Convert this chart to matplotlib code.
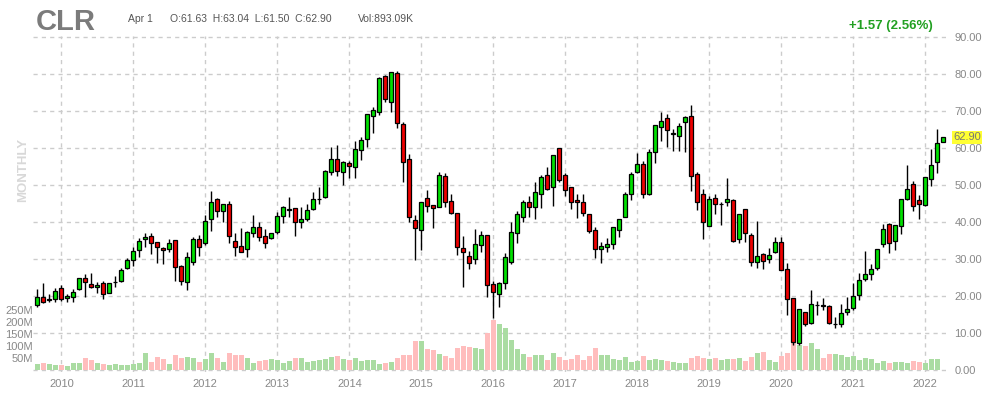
import numpy as np
import matplotlib
matplotlib.use('Agg')
import matplotlib.pyplot as plt
import matplotlib.transforms as mtransforms

plt.rcParams['font.family'] = ['Liberation Sans', 'DejaVu Sans']

# monthly candles, Sep 2009 .. Apr 2022
years = ['2010', '2011', '2012', '2013', '2014', '2015', '2016',
         '2017', '2018', '2019', '2020', '2021', '2022']

opens = [17.7, 19.6, 19.05, 19.3, 22.1, 19.4, 19.8, 21.8, 24.8, 23.2,
         22.3, 23.4, 20.9, 23.7, 24.1, 27.5, 29.6, 32.3, 35.3, 36.1,
         34.5, 33.0, 32.6, 35.1, 28.1, 23.9, 29.1, 35.3, 34.4, 40.7,
         46.1, 43.1, 44.8, 34.9, 33.5, 32.6, 36.9, 38.6, 36.2, 35.6,
         37.4, 41.7, 43.3, 43.7, 40.1, 40.8, 43.4, 46.2, 46.8, 53.6,
         56.9, 53.6, 55.9, 55.0, 59.4, 62.3, 68.7, 69.8, 79.5, 72.5,
         80.2, 66.4, 56.9, 40.5, 37.8, 46.4, 44.6, 44.1, 52.4, 45.6,
         42.3, 32.9, 30.7, 29.9, 33.7, 36.5, 23.2, 20.45, 23.4, 29.3,
         37.1, 41.4, 45.4, 44.1, 47.7, 52.7, 49.5, 59.9, 52.7, 49.4,
         45.9, 45.3, 42.1, 37.8, 32.6, 33.3, 34.0, 37.8, 41.4, 47.7,
         53.4, 55.6, 47.7, 58.8, 65.6, 68.0, 63.9, 63.3, 66.9, 68.7,
         52.9, 47.5, 39.0, 46.4, 44.8, 45.5, 46.0, 35.3, 43.5, 36.4,
         29.3, 31.4, 29.9, 31.8, 34.5, 27.2, 19.4, 7.2, 15.8, 12.6,
         17.5, 17.45, 17.4, 12.3, 12.4, 15.8, 16.7, 20.2, 24.7, 26.0,
         27.7, 34.0, 39.5, 34.9, 39.0, 46.2, 50.2, 46.0, 44.6, 51.5,
         56.1, 61.63]

highs = [21.8, 23.4, 20.5, 22.2, 22.9, 20.5, 21.8, 24.9, 26.0, 26.1,
         23.9, 24.1, 23.5, 25.4, 27.5, 30.2, 33.3, 35.6, 36.9, 36.9,
         34.6, 33.3, 35.3, 35.2, 28.4, 31.9, 35.9, 36.5, 41.9, 48.4,
         46.4, 45.0, 45.7, 36.9, 38.3, 37.7, 41.9, 40.1, 38.1, 37.1,
         42.8, 44.3, 46.8, 43.8, 44.0, 44.9, 48.2, 49.5, 54.1, 60.4,
         60.8, 56.4, 56.6, 61.9, 63.1, 69.2, 71.2, 79.3, 79.6, 80.6,
         80.8, 66.9, 58.3, 41.9, 45.4, 48.7, 44.7, 53.4, 53.2, 47.7,
         42.4, 36.2, 32.2, 38.1, 37.6, 36.6, 24.1, 23.7, 31.7, 40.0,
         43.1, 45.9, 47.0, 50.7, 52.7, 55.0, 58.2, 59.9, 53.3, 49.4,
         47.6, 47.6, 42.1, 38.6, 34.7, 35.6, 38.6, 40.8, 48.2, 53.4,
         58.7, 56.5, 59.6, 66.3, 69.6, 69.2, 65.0, 66.7, 68.7, 71.6,
         53.6, 48.8, 47.0, 47.6, 45.5, 51.8, 46.1, 42.1, 43.6, 37.0,
         40.4, 31.7, 32.9, 36.0, 35.9, 29.0, 19.4, 16.5, 15.8, 21.6,
         18.7, 19.4, 17.5, 14.2, 17.8, 19.6, 23.6, 26.2, 32.1, 28.6,
         32.7, 39.4, 39.8, 39.3, 46.2, 55.4, 51.1, 47.3, 52.1, 59.6,
         65.0, 63.04]

lows = [16.9, 18.2, 18.5, 18.5, 18.7, 18.3, 18.5, 21.7, 19.8, 22.1,
        20.9, 19.3, 20.7, 22.5, 23.9, 27.2, 28.1, 30.5, 33.2, 31.4,
        29.0, 28.7, 32.0, 24.1, 23.0, 21.6, 28.4, 30.8, 33.8, 37.7,
        41.4, 40.1, 34.4, 30.8, 31.9, 30.6, 36.0, 35.0, 33.1, 35.3,
        36.8, 39.8, 41.3, 36.2, 38.5, 40.3, 43.2, 44.9, 46.6, 52.7,
        52.3, 50.0, 52.0, 51.8, 56.8, 60.4, 64.0, 68.9, 72.3, 69.6,
        65.3, 50.9, 39.9, 29.7, 32.4, 42.8, 38.3, 44.0, 44.1, 42.1,
        31.1, 22.5, 27.2, 28.6, 32.0, 19.6, 14.0, 17.1, 21.8, 28.6,
        34.4, 40.0, 41.3, 40.8, 43.9, 48.6, 44.3, 50.9, 46.9, 43.5,
        41.2, 41.6, 36.9, 30.3, 29.0, 32.0, 32.8, 35.9, 41.4, 45.9,
        53.3, 46.6, 47.4, 56.0, 62.0, 60.4, 59.2, 59.3, 59.0, 48.5,
        43.3, 35.4, 39.0, 42.2, 39.2, 44.2, 34.7, 34.4, 34.7, 28.1,
        27.7, 27.3, 29.0, 31.5, 27.0, 14.9, 6.8, 6.8, 11.9, 12.35,
        14.9, 16.1, 12.35, 11.45, 11.7, 14.9, 16.2, 18.9, 24.1, 24.4,
        27.1, 33.3, 31.5, 32.3, 36.7, 45.9, 43.1, 40.7, 44.3, 49.7,
        53.2, 61.50]

closes = [19.6, 18.5, 19.15, 21.4, 19.1, 19.9, 21.2, 24.8, 23.7, 22.3,
          23.0, 20.5, 23.4, 23.9, 27.0, 29.7, 32.2, 34.9, 35.9, 34.2,
          33.2, 32.3, 34.4, 27.9, 24.1, 30.5, 35.3, 33.3, 40.4, 45.3,
          43.1, 44.8, 36.3, 33.3, 32.0, 37.3, 38.6, 35.9, 34.4, 36.9,
          41.6, 44.0, 43.5, 40.1, 40.7, 43.2, 46.1, 46.35, 53.8, 56.9,
          53.9, 56.3, 55.1, 59.6, 62.2, 69.1, 70.3, 78.8, 73.2, 80.5,
          66.7, 56.3, 41.3, 38.3, 45.3, 44.4, 43.7, 52.7, 45.5, 42.4,
          33.3, 32.0, 29.0, 34.0, 36.5, 23.0, 21.2, 23.4, 30.45, 37.2,
          42.2, 45.4, 44.1, 48.1, 52.1, 49.0, 58.1, 51.4, 48.6, 45.3,
          45.3, 42.3, 37.7, 32.6, 33.5, 34.05, 38.6, 40.7, 47.6, 53.0,
          55.6, 47.5, 58.8, 66.2, 67.3, 64.9, 64.05, 66.0, 68.3, 52.5,
          45.5, 40.1, 46.1, 44.8, 44.9, 46.1, 35.0, 42.1, 37.1, 29.3,
          30.8, 29.55, 31.1, 34.5, 27.1, 19.1, 7.7, 16.4, 12.4, 17.75,
          17.6, 17.4, 12.6, 12.4, 15.5, 16.4, 19.9, 24.3, 25.95, 27.2,
          32.6, 38.0, 34.2, 39.2, 46.1, 48.8, 44.4, 44.8, 52.1, 55.4,
          61.3, 62.90]

# volume in millions
volumes = [25, 28, 25, 21, 21, 17, 29, 29, 50, 43,
           29, 25, 21, 25, 21, 21, 25, 29, 71, 33,
           54, 46, 25, 63, 50, 54, 50, 33, 46, 71,
           50, 33, 71, 63, 63, 50, 29, 38, 42, 46,
           42, 29, 38, 50, 50, 33, 38, 42, 46, 54,
           58, 46, 42, 49, 38, 42, 42, 25, 29, 33,
           50, 63, 63, 121, 121, 87, 83, 67, 58, 50,
           92, 100, 94, 92, 87, 154, 208, 192, 175, 125,
           87, 67, 54, 63, 63, 42, 71, 54, 42, 46,
           63, 42, 58, 92, 63, 63, 46, 42, 54, 33,
           38, 58, 42, 46, 42, 38, 33, 29, 29, 50,
           58, 50, 46, 50, 42, 46, 46, 50, 38, 54,
           71, 75, 42, 33, 58, 71, 118, 104, 100, 112,
           87, 50, 67, 67, 63, 54, 58, 42, 50, 46,
           29, 38, 29, 33, 33, 29, 38, 33, 29, 46,
           46, 0.89]

o = np.array(opens)
h = np.array(highs)
l = np.array(lows)
c = np.array(closes)
v = np.array(volumes)
x = np.arange(len(c))
up = c >= o

# volume is drawn in price units: 0.24 px per M vs 3.694 px per price unit
k = 0.24 / 3.694

fig = plt.figure(figsize=(9.92, 4), dpi=100)
ax = fig.add_axes([33 / 992, 1 - 372 / 400, (949 - 33) / 992, (372 - 36) / 400])

ax.bar(x, v * k, width=0.84, color=np.where(up, '#aadca2', '#ffbdbd'),
       linewidth=0, zorder=1)
ax.vlines(x, l, h, color='black', linewidth=1.0, zorder=2)
ax.bar(x, np.maximum(np.abs(c - o), 0.12), bottom=np.minimum(o, c), width=0.68,
       color=np.where(up, '#00e000', '#ee0000'), edgecolor='black',
       linewidth=0.9, zorder=3)

ax.set_xlim(-0.72, 151.95)
ax.set_ylim(-0.54, 90.27)

ax.set_axisbelow(True)
ax.grid(True, color='#cccccc', linestyle=(0, (3, 3)), linewidth=1.0)
for s in ax.spines.values():
    s.set_visible(False)

ax.yaxis.tick_right()
ax.set_yticks(np.arange(0, 91, 10))
ax.set_yticklabels(['%.2f' % t for t in np.arange(0, 91, 10)])
ax.set_xticks(np.arange(4, len(c), 12))
ax.set_xticklabels(years)
ax.tick_params(axis='both', length=0, colors='#888888', labelsize=8)
ax.tick_params(axis='y', pad=4)
ax.tick_params(axis='x', pad=5)

sec = ax.secondary_yaxis('left', functions=(lambda p: p / k, lambda m: m * k))
sec.set_yticks([50, 100, 150, 200, 250])
sec.set_yticklabels(['50M', '100M', '150M', '200M', '250M'])
sec.tick_params(length=0, colors='#888888', labelsize=8, pad=0)
for s in sec.spines.values():
    s.set_visible(False)

# last price tag
trans = mtransforms.blended_transform_factory(ax.transAxes, ax.transData)
ax.text(1.0045, c[-1], '%.2f' % c[-1], transform=trans, ha='left', va='center',
        fontsize=8, color='#777777', zorder=5,
        bbox=dict(boxstyle='square,pad=0.12', fc='#ffff33', ec='none'))

# header
fig.text(36 / 992, 1 - 30 / 400, 'CLR', fontsize=21, fontweight='bold',
         color='#7b7b7b', va='baseline')
fig.text(128 / 992, 1 - 22 / 400, 'Apr 1', fontsize=7.5, color='#555555', va='baseline')
fig.text(170 / 992, 1 - 22 / 400, 'O:61.63  H:63.04  L:61.50  C:62.90',
         fontsize=7.5, color='#555555', va='baseline')
fig.text(358 / 992, 1 - 22 / 400, 'Vol:893.09K', fontsize=7.5, color='#555555',
         va='baseline')
fig.text(933 / 992, 1 - 29.5 / 400, '+1.57 (2.56%)', fontsize=9.5, fontweight='bold',
         color='#22a022', ha='right', va='baseline')
fig.text(23 / 992, 1 - 170 / 400, 'MONTHLY', rotation=90, fontsize=9.5,
         fontweight='bold', color='#d8d8d8', ha='center', va='center')

fig.savefig('out.png', dpi=100)
